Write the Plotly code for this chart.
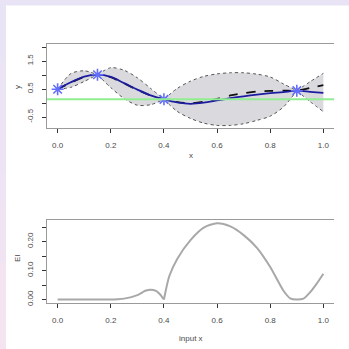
import plotly.graph_objects as go
from plotly.subplots import make_subplots

# ---------------- data ----------------
obs_x = [0.0, 0.15, 0.4, 0.9]
obs_y = [0.49, 1.01, 0.13, 0.44]

grid_x = [0.0, 0.05, 0.1, 0.15, 0.2, 0.25, 0.3, 0.35, 0.4, 0.45, 0.5,
          0.55, 0.6, 0.65, 0.7, 0.75, 0.8, 0.85, 0.9, 0.95, 1.0]
mean_y = [0.49, 0.73, 0.93, 1.01, 0.92, 0.70, 0.47, 0.27, 0.13, 0.03, -0.01,
          0.05, 0.15, 0.27, 0.35, 0.41, 0.43, 0.44, 0.44, 0.54, 0.64]
true_y = [0.49, 0.74, 0.94, 1.01, 0.93, 0.71, 0.48, 0.27, 0.13, 0.02, -0.03,
          0.01, 0.09, 0.17, 0.24, 0.30, 0.35, 0.39, 0.44, 0.40, 0.36]
upper_y = [0.49, 1.05, 1.15, 1.01, 1.26, 1.17, 0.90, 0.52, 0.13, 0.52, 0.78,
           0.95, 1.04, 1.08, 1.08, 1.03, 0.93, 0.68, 0.44, 0.76, 1.06]
lower_y = [0.49, 0.56, 0.77, 1.01, 0.55, 0.16, -0.08, -0.06, 0.13, -0.30, -0.55,
           -0.72, -0.80, -0.80, -0.74, -0.62, -0.47, -0.14, 0.44, 0.05, -0.31]

ei_x = [0.0, 0.1, 0.2, 0.225, 0.25, 0.3, 0.33, 0.35, 0.37, 0.385, 0.4,
        0.42, 0.45, 0.5, 0.55, 0.6, 0.65, 0.7, 0.75, 0.8, 0.85, 0.875,
        0.9, 0.925, 0.95, 0.975, 1.0]
ei_y = [0.0, 0.0, 0.0, 0.001, 0.003, 0.015, 0.030, 0.034, 0.030, 0.018, 0.0,
        0.08, 0.14, 0.205, 0.248, 0.263, 0.252, 0.222, 0.178, 0.112, 0.03, 0.004,
        0.0, 0.003, 0.025, 0.055, 0.089]

x_ticks = [0.0, 0.2, 0.4, 0.6, 0.8, 1.0]
x_ticktext = ["0.0", "0.2", "0.4", "0.6", "0.8", "1.0"]
y1_ticks = [-0.5, 0.0, 0.5, 1.0, 1.5, 2.0]
y1_ticktext = ["-0.5", "", "0.5", "", "1.5", ""]
y2_ticks = [0.0, 0.05, 0.10, 0.15, 0.20, 0.25]
y2_ticktext = ["0.00", "", "0.10", "", "0.20", ""]

# ---------------- layout geometry ----------------
W = H = 349
L, R, T, B = 47, 15, 44, 46
PW, PH = W - L - R, H - T - B


def px2x(px):
    return (px - L) / PW


def py2y(py):
    return (H - B - py) / PH


FONT = "Liberation Sans"
TXT = "#4a4a4a"

fig = make_subplots(rows=2, cols=1)

# band, per segment between observations
band_fill = "rgba(218,218,222,1)"
band_line = dict(color="#555555", width=1, dash="dot", shape="spline", smoothing=0.8)
seg_bounds = [grid_x.index(v) for v in obs_x] + [len(grid_x) - 1]
for a, b in zip(seg_bounds[:-1], seg_bounds[1:]):
    xs = grid_x[a:b + 1]
    fig.add_trace(go.Scatter(x=xs, y=lower_y[a:b + 1], mode="lines", line=band_line,
                             showlegend=False, hoverinfo="skip"), row=1, col=1)
    fig.add_trace(go.Scatter(x=xs, y=upper_y[a:b + 1], mode="lines", line=band_line,
                             fill="tonexty", fillcolor=band_fill,
                             showlegend=False, hoverinfo="skip"), row=1, col=1)

fig.add_hline(y=min(obs_y), line=dict(color="#90ee90", width=2), row=1, col=1)

fig.add_trace(go.Scatter(x=grid_x, y=mean_y, mode="lines",
                         line=dict(color="#111111", width=1.8, dash="dash", shape="spline", smoothing=0.8),
                         showlegend=False), row=1, col=1)
fig.add_trace(go.Scatter(x=grid_x, y=true_y, mode="lines",
                         line=dict(color="#1c1ca0", width=1.8, shape="spline", smoothing=0.8),
                         showlegend=False), row=1, col=1)
fig.add_trace(go.Scatter(x=obs_x, y=obs_y, mode="markers",
                         marker=dict(symbol="asterisk-open", size=10,
                                     line=dict(color="#2222cc", width=1.6)),
                         showlegend=False), row=1, col=1)

# EI curve split at the cusp
cut = ei_x.index(0.4)
for a, b in [(0, cut), (cut, len(ei_x) - 1)]:
    fig.add_trace(go.Scatter(x=ei_x[a:b + 1], y=ei_y[a:b + 1], mode="lines",
                             line=dict(color="#a8a8a8", width=2, shape="spline", smoothing=0.7),
                             showlegend=False), row=2, col=1)

axis_common = dict(showgrid=False, zeroline=False, showline=True, linecolor="#9a9a9a",
                   linewidth=1, ticks="outside", ticklen=4, tickcolor="#333333",
                   tickfont=dict(family=FONT, size=8, color=TXT))

top_dom = [py2y(128), 1.0]
bot_dom = [0.0, py2y(219.5)]

fig.update_xaxes(range=[-0.04, 1.04], tickvals=x_ticks, ticktext=x_ticktext,
                 mirror=True, ticklabelstandoff=5, **axis_common)
fig.update_yaxes(tickangle=-90, ticklabelstandoff=6, **axis_common)
fig.update_layout(
    yaxis=dict(domain=top_dom, range=[-0.893, 2.107], tickvals=y1_ticks, ticktext=y1_ticktext),
    yaxis2=dict(domain=bot_dom, range=[-0.0121, 0.2759], tickvals=y2_ticks, ticktext=y2_ticktext),
)

# lavender border strips: top strip and a left strip fading to pink
# (added with add_shape so the green hline shape is not overwritten)
fig.add_shape(type="rect", xref="paper", yref="paper", layer="above",
              x0=px2x(0), x1=px2x(W), y0=py2y(5.5), y1=py2y(0),
              fillcolor="rgb(232,228,246)", line=dict(width=0))
n = 12
c0, c1 = (232, 228, 246), (244, 228, 240)
for i in range(n):
    t = i / (n - 1)
    col = "rgb(%d,%d,%d)" % tuple(round(c0[k] + (c1[k] - c0[k]) * t) for k in range(3))
    fig.add_shape(type="rect", xref="paper", yref="paper", layer="above",
                  x0=px2x(0), x1=px2x(6),
                  y0=py2y(min(H, H * (i + 1) / n + 1)), y1=py2y(H * i / n),
                  fillcolor=col, line=dict(width=0))

ann_font = dict(family=FONT, size=8, color=TXT)
annotations = [
    dict(text="x", x=px2x(190.5), y=py2y(155)),
    dict(text="input x", x=px2x(190.5), y=py2y(338)),
    dict(text="y", x=px2x(17), y=py2y(87), textangle=-90),
    dict(text="EI", x=px2x(17), y=py2y(258), textangle=-90),
]
for a in annotations:
    a.update(xref="paper", yref="paper", xanchor="center", yanchor="middle",
             showarrow=False, font=ann_font)

fig.update_layout(
    width=W, height=H, margin=dict(l=L, r=R, t=T, b=B, autoexpand=False),
    paper_bgcolor="white", plot_bgcolor="white",
    annotations=annotations, showlegend=False,
)

fig.write_html("out.html")
